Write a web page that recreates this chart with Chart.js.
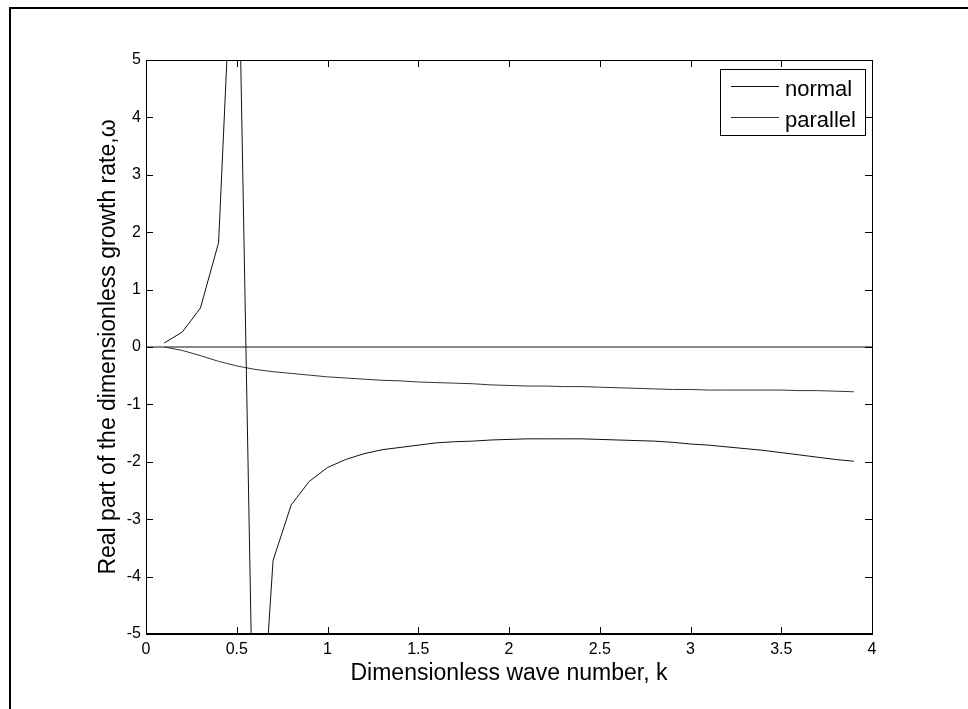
<!DOCTYPE html>
<html>
<head>
<meta charset="utf-8">
<script src="https://cdn.jsdelivr.net/npm/chart.js@4.4.1/dist/chart.umd.min.js"></script>
<style>
html,body{margin:0;padding:0;background:#fff;}
canvas{display:block;}
</style>
</head>
<body>
<canvas id="growthChart" width="968" height="709"></canvas>
<script>
let kValues=[0.1,0.2,0.3,0.4,0.5,0.6,0.7,0.8,0.9,1.0,1.1,1.2,1.3,1.4,1.5,1.6,1.7,1.8,1.9,2.0,
  2.1,2.2,2.3,2.4,2.5,2.6,2.7,2.8,2.9,3.0,3.1,3.2,3.3,3.4,3.5,3.6,3.7,3.8,3.9];
let normalValues=[0.07,0.26,0.68,1.82,8.8,-8.6,-3.72,-2.75,-2.34,-2.10,-1.96,-1.86,-1.79,-1.75,-1.71,-1.67,-1.65,-1.64,-1.62,-1.61,
  -1.60,-1.60,-1.60,-1.60,-1.61,-1.62,-1.63,-1.64,-1.66,-1.69,-1.71,-1.74,-1.77,-1.80,-1.84,-1.88,-1.92,-1.96,-1.99];
let parallelValues=[0,-0.06,-0.15,-0.25,-0.33,-0.39,-0.43,-0.46,-0.49,-0.52,-0.54,-0.56,-0.58,-0.59,-0.61,-0.62,-0.63,-0.64,-0.66,-0.67,
  -0.68,-0.68,-0.69,-0.69,-0.70,-0.71,-0.72,-0.73,-0.74,-0.74,-0.75,-0.75,-0.75,-0.75,-0.75,-0.76,-0.76,-0.77,-0.78];
let zeroK=[0,4];
let zeroValues=[0,0];
let xTicks=[0,0.5,1,1.5,2,2.5,3,3.5,4];
let yTicks=[-5,-4,-3,-2,-1,0,1,2,3,4,5];
let legendLabels=['normal','parallel'];

function toPoints(xs, ys){
  return xs.map((x,i)=>({x:x, y:ys[i]}));
}

// matlab style box, inward ticks, legend and figure frame
let matlabLook={
  id:'matlabLook',
  beforeDraw(chart){
    let ctx=chart.ctx;
    ctx.save();
    ctx.fillStyle='#fff';
    ctx.fillRect(0,0,chart.width,chart.height);
    ctx.fillStyle='#000';
    ctx.fillRect(9,7,chart.width-9,2);
    ctx.fillRect(9,7,2,chart.height-7);
    ctx.restore();
  },
  afterDraw(chart){
    let ctx=chart.ctx;
    let a=chart.chartArea;
    let xs=chart.scales.x, ys=chart.scales.y;
    ctx.save();
    ctx.strokeStyle='#000';
    ctx.lineWidth=1;
    ctx.beginPath();
    ctx.moveTo(a.left+0.5,a.bottom); ctx.lineTo(a.left+0.5,a.top+0.5);
    ctx.lineTo(a.right+0.5,a.top+0.5); ctx.lineTo(a.right+0.5,a.bottom);
    ctx.stroke();
    ctx.fillStyle='#000';
    ctx.fillRect(a.left,a.bottom-1,a.right-a.left+1,2);
    let len=7;
    ctx.beginPath();
    xTicks.forEach(v=>{
      let px=Math.round(xs.getPixelForValue(v))+0.5;
      ctx.moveTo(px,a.bottom); ctx.lineTo(px,a.bottom-len);
      ctx.moveTo(px,a.top); ctx.lineTo(px,a.top+len);
    });
    yTicks.forEach(v=>{
      let py=Math.round(ys.getPixelForValue(v))+0.5;
      ctx.moveTo(a.left,py); ctx.lineTo(a.left+len,py);
      ctx.moveTo(a.right,py); ctx.lineTo(a.right-len,py);
    });
    ctx.stroke();

    // legend
    ctx.fillStyle='#fff';
    ctx.fillRect(721,70,144,65);
    ctx.strokeRect(720.5,69.5,145,66);
    ctx.font='22px "Liberation Sans", Arial, sans-serif';
    ctx.textAlign='left';
    ctx.textBaseline='alphabetic';
    let rows=[86,117];
    legendLabels.forEach((lab,i)=>{
      let ds=chart.data.datasets[i];
      ctx.strokeStyle=ds.borderColor;
      ctx.beginPath();
      ctx.moveTo(731,rows[i]+0.5); ctx.lineTo(779,rows[i]+0.5);
      ctx.stroke();
      ctx.fillStyle='#000';
      ctx.fillText(lab,785,rows[i]+10);
    });
    ctx.restore();
  }
};

let ctx=document.getElementById('growthChart').getContext('2d');
let growthChart=new Chart(ctx,{
  type:'line',
  data:{
    datasets:[{
      label:legendLabels[0],
      data:toPoints(kValues,normalValues),
      borderColor:'#111',
      borderWidth:1,
      pointRadius:0,
      tension:0
    },{
      label:legendLabels[1],
      data:toPoints(kValues,parallelValues),
      borderColor:'#333',
      borderWidth:1,
      pointRadius:0,
      tension:0
    },{
      label:'zero',
      data:toPoints(zeroK,zeroValues),
      borderColor:'#111',
      borderWidth:1,
      pointRadius:0,
      tension:0
    }]
  },
  options:{
    responsive:false,
    devicePixelRatio:1,
    animation:false,
    layout:{padding:{left:0,top:60,right:96,bottom:0}},
    plugins:{legend:{display:false},tooltip:{enabled:false}},
    scales:{
      x:{
        type:'linear',
        min:0,max:4,
        grid:{display:false,drawTicks:false},
        border:{display:false},
        afterFit(s){ s.height=75; },
        afterBuildTicks(s){ s.ticks=xTicks.map(v=>({value:v})); },
        ticks:{
          color:'#000',
          padding:6,
          maxRotation:0,
          font:{family:'"Liberation Sans", Arial, sans-serif',size:16},
          callback:v=>String(v)
        },
        title:{
          display:true,
          text:'Dimensionless wave number, k',
          color:'#000',
          padding:{top:0,bottom:22},
          font:{family:'"Liberation Sans", Arial, sans-serif',size:23}
        }
      },
      y:{
        type:'linear',
        min:-5,max:5,
        grid:{display:false,drawTicks:false},
        border:{display:false},
        afterFit(s){ s.width=146; },
        afterBuildTicks(s){ s.ticks=yTicks.map(v=>({value:v})); },
        ticks:{
          color:'#000',
          padding:5,
          font:{family:'"Liberation Sans", Arial, sans-serif',size:16},
          callback:v=>String(v)
        },
        title:{
          display:true,
          text:'Real part of the dimensionless growth rate,ω',
          color:'#000',
          padding:{top:95,bottom:0},
          font:{family:'"Liberation Sans", Arial, sans-serif',size:23}
        }
      }
    }
  },
  plugins:[matlabLook]
});
</script>
</body>
</html>
